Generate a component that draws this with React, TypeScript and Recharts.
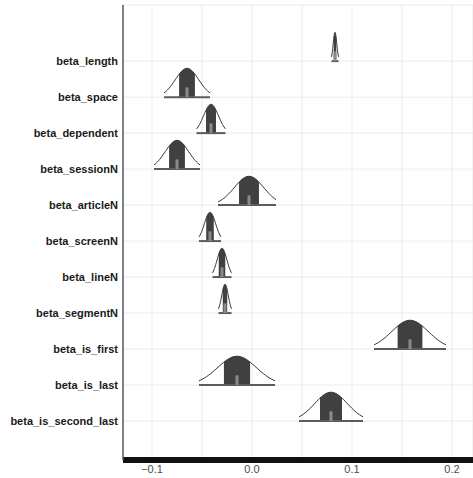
import React from "react";
import { ComposedChart, Line, Area, XAxis, YAxis, CartesianGrid } from "recharts";

// parameters, top to bottom
const PARAMS = [
  "beta_length",
  "beta_space",
  "beta_dependent",
  "beta_sessionN",
  "beta_articleN",
  "beta_screenN",
  "beta_lineN",
  "beta_segmentN",
  "beta_is_first",
  "beta_is_last",
  "beta_is_second_last",
];
const MEDIANS = [0.083, -0.065, -0.041, -0.075, -0.003, -0.042, -0.03, -0.027, 0.158, -0.015, 0.079];
const LOWER_95 = [0.0795, -0.088, -0.0555, -0.098, -0.034, -0.053, -0.0395, -0.0335, 0.122, -0.053, 0.047];
const UPPER_95 = [0.0865, -0.042, -0.0265, -0.052, 0.024, -0.031, -0.0205, -0.0205, 0.194, 0.023, 0.111];

const X_TICKS = [-0.1, -0.05, 0, 0.05, 0.1, 0.15, 0.2];
const X_DOMAIN = [-0.129, 0.221];
const Y_DOMAIN = [-0.083, 12.56];

const PEAK = 0.8;
const MEDIAN_H = 0.27;
const N_PTS = 41;

function rowData(i: number) {
  const v = PARAMS.length - i;
  const m = MEDIANS[i];
  const lo = LOWER_95[i];
  const hi = UPPER_95[i];
  const sd = (hi - lo) / 3.92;
  const dens = (x: number) => v + PEAK * Math.exp(-0.5 * ((x - m) / sd) ** 2);
  const curve = [];
  for (let k = 0; k < N_PTS; k++) {
    const x = lo + ((hi - lo) * k) / (N_PTS - 1);
    curve.push({ x, y: dens(x) });
  }
  const f0 = m - 0.674 * sd;
  const f1 = m + 0.674 * sd;
  const fill = [];
  for (let k = 0; k < 21; k++) {
    const x = f0 + ((f1 - f0) * k) / 20;
    fill.push({ x, range: [v, dens(x)] });
  }
  const base = [
    { x: lo, y: v },
    { x: hi, y: v },
  ];
  const med = [
    { x: m, y: v },
    { x: m, y: v + MEDIAN_H },
  ];
  return { curve, fill, base, med };
}

const ROWS = PARAMS.map((_, i) => rowData(i));

const fmtX = (v: number) => {
  if (Math.abs(v * 10 - Math.round(v * 10)) > 1e-9) return "";
  const s = Math.abs(v).toFixed(1);
  return v < -1e-9 ? "\u2212" + s : s;
};

export default function App() {
  return (
    <div style={{ position: "absolute", left: 0, top: 0 }}>
      <ComposedChart
        width={473}
        height={478}
        margin={{ top: 5, right: 0, bottom: 0, left: 0 }}
        style={{ fontFamily: "'Liberation Sans', Arial, sans-serif" }}
      >
        <CartesianGrid stroke="#ebebeb" strokeWidth={1} />
        <XAxis
          type="number"
          dataKey="x"
          domain={X_DOMAIN}
          allowDataOverflow
          ticks={X_TICKS}
          interval={0}
          tickFormatter={fmtX}
          height={18}
          tickLine={false}
          tickSize={3}
          tickMargin={2}
          axisLine={{ stroke: "#111", strokeWidth: 6 }}
          tick={{ fontSize: 11, fill: "#4d4d4d" }}
        />
        <YAxis
          type="number"
          domain={Y_DOMAIN}
          allowDataOverflow
          ticks={PARAMS.map((_, i) => PARAMS.length - i)}
          interval={0}
          tickFormatter={(v: number) => PARAMS[PARAMS.length - v] ?? ""}
          width={123}
          tickLine={false}
          tickSize={3}
          tickMargin={2}
          axisLine={{ stroke: "#5a5a5a", strokeWidth: 1.5 }}
          tick={{ fontSize: 11, fill: "#1a1a1a", fontWeight: "bold" }}
        />
        {ROWS.map((r, i) => (
          <Area
            key={"fill" + i}
            data={r.fill}
            dataKey="range"
            type="linear"
            stroke="none"
            fill="#404040"
            fillOpacity={1}
            isAnimationActive={false}
            activeDot={false}
          />
        ))}
        {ROWS.map((r, i) => (
          <Line
            key={"curve" + i}
            data={r.curve}
            dataKey="y"
            type="linear"
            stroke="#333"
            strokeWidth={1}
            dot={false}
            activeDot={false}
            isAnimationActive={false}
          />
        ))}
        {ROWS.map((r, i) => (
          <Line
            key={"base" + i}
            data={r.base}
            dataKey="y"
            type="linear"
            stroke="#5c5c5c"
            strokeWidth={2}
            dot={false}
            activeDot={false}
            isAnimationActive={false}
          />
        ))}
        {ROWS.map((r, i) => (
          <Line
            key={"med" + i}
            data={r.med}
            dataKey="y"
            type="linear"
            stroke="#8a8a8a"
            strokeWidth={3}
            dot={false}
            activeDot={false}
            isAnimationActive={false}
          />
        ))}
      </ComposedChart>
    </div>
  );
}
